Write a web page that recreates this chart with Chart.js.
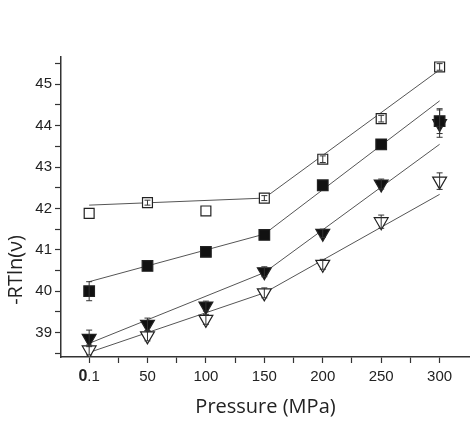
<!DOCTYPE html>
<html>
<head>
<meta charset="utf-8">
<script src="https://cdn.jsdelivr.net/npm/chart.js@4/dist/chart.umd.min.js"></script>
<style>
html, body { margin: 0; padding: 0; background: #fff; overflow: hidden; }
#wrap { width: 470px; height: 425px; }
canvas { display: block; }
</style>
</head>
<body>
<div id="wrap"><canvas id="chart"></canvas></div>
<script>
// presiones medidas (MPa)
const pressure = [0.1, 50, 100, 150, 200, 250, 300];
const xTickValues = [0.1, 25, 50, 75, 100, 125, 150, 175, 200, 225, 250, 275, 300];
const xTickLabels = ['0.1', '50', '100', '150', '200', '250', '300'];
const yTickValues = [38.5, 39, 39.5, 40, 40.5, 41, 41.5, 42, 42.5, 43, 43.5, 44, 44.5, 45, 45.5];
const yTitle = '-RTln(ν)';

// -RTln(v) por serie
const openSquare   = [41.88, 42.14, 41.94, 42.25, 43.19, 44.17, 45.42];
const filledSquare = [40.00, 40.61, 40.95, 41.36, 42.56, 43.55, 44.11];
const filledTri    = [38.86, 39.20, 39.64, 40.47, 41.40, 42.59, 44.05];
const openTri      = [38.58, 38.92, 39.32, 39.96, 40.65, 41.68, 42.66];

// barras de error
const errOpenSquare   = [0, 0.06, 0, 0.06, 0.08, 0.08, 0.08];
const errFilledSquare = [0.23, 0, 0, 0, 0, 0, 0.3];
const errFilledTri    = [0.2, 0.15, 0.12, 0.12, 0.1, 0.12, 0.33];
const errOpenTri      = [0.12, 0.12, 0.12, 0.12, 0.12, 0.16, 0.2];

// rectas de ajuste (dos tramos)
const fitX = [0.1, 150, 300];
const fitOpenSquare   = [42.08, 42.25, 45.35];
const fitFilledSquare = [40.23, 41.38, 44.60];
const fitFilledTri    = [38.74, 40.45, 43.55];
const fitOpenTri      = [38.52, 39.96, 42.34];

const toPts = (xs, ys) => xs.map((x, i) => ({ x: x, y: ys[i] }));

function markers(label, ys, errs, style, filled, radius) {
    return {
        label: label,
        data: toPts(pressure, ys),
        errors: errs,
        pointStyle: style,
        rotation: style === 'triangle' ? 180 : 0,
        pointRadius: radius,
        pointHoverRadius: radius,
        backgroundColor: filled ? '#111' : '#fff',
        borderColor: '#222',
        borderWidth: 1.2,
        showLine: false
    };
}

function fitLine(label, ys) {
    return {
        label: label,
        data: toPts(fitX, ys),
        showLine: true,
        pointRadius: 0,
        borderColor: '#555',
        borderWidth: 1,
        tension: 0
    };
}

// barras de error, titulo del eje y y la etiqueta "0.1"
const extras = {
    id: 'extras',
    afterDatasetsDraw(chart) {
        const ctx = chart.ctx;
        const xs = chart.scales.x, ys = chart.scales.y;
        ctx.save();
        ctx.strokeStyle = '#333';
        ctx.lineWidth = 1;
        chart.data.datasets.forEach(ds => {
            if (!ds.errors) return;
            ds.data.forEach((p, i) => {
                const e = ds.errors[i];
                if (!e) return;
                const px = xs.getPixelForValue(p.x);
                const top = ys.getPixelForValue(p.y + e);
                const bot = ys.getPixelForValue(p.y - e);
                ctx.beginPath();
                ctx.moveTo(px, top); ctx.lineTo(px, bot);
                ctx.moveTo(px - 3, top); ctx.lineTo(px + 3, top);
                ctx.moveTo(px - 3, bot); ctx.lineTo(px + 3, bot);
                ctx.stroke();
            });
        });
        ctx.restore();
    },
    afterDraw(chart) {
        const ctx = chart.ctx;
        const xs = chart.scales.x;
        ctx.save();
        ctx.fillStyle = '#222';
        // etiqueta 0.1 con el cero en negrita
        const boldFont = 'bold 16px "Liberation Sans"';
        const normFont = '15px "Liberation Sans"';
        ctx.font = boldFont;
        const w0 = ctx.measureText('0').width;
        ctx.font = normFont;
        const w1 = ctx.measureText('.1').width;
        const cx = xs.getPixelForValue(pressure[0]);
        const ty = xs.top + 6 + 5 + 9;
        ctx.textBaseline = 'middle';
        ctx.textAlign = 'left';
        ctx.font = boldFont;
        ctx.fillText('0', cx - (w0 + w1) / 2, ty);
        ctx.font = normFont;
        ctx.fillText('.1', cx - (w0 + w1) / 2 + w0, ty);
        // titulo del eje y
        ctx.translate(16, 270);
        ctx.rotate(-Math.PI / 2);
        ctx.textAlign = 'center';
        ctx.font = '20px "Open Sans"';
        ctx.fillText(yTitle, 0, 0);
        ctx.restore();
    }
};

const config = {
    type: 'scatter',
    data: {
        datasets: [
            markers('open square', openSquare, errOpenSquare, 'rect', false, 7),
            markers('filled square', filledSquare, errFilledSquare, 'rect', true, 7.5),
            markers('filled triangle', filledTri, errFilledTri, 'triangle', true, 8),
            markers('open triangle', openTri, errOpenTri, 'triangle', false, 8),
            fitLine('fit 1', fitOpenSquare),
            fitLine('fit 2', fitFilledSquare),
            fitLine('fit 3', fitFilledTri),
            fitLine('fit 4', fitOpenTri)
        ]
    },
    options: {
        responsive: true,
        maintainAspectRatio: false,
        animation: false,
        layout: { autoPadding: false, padding: { top: 57, right: 0, bottom: 0, left: 0 } },
        plugins: {
            legend: { display: false },
            tooltip: { enabled: false }
        },
        scales: {
            x: {
                type: 'linear',
                min: -24,
                max: 326,
                afterBuildTicks: s => { s.ticks = xTickValues.map(v => ({ value: v })); },
                afterFit: s => { s.height = 68; },
                grid: { drawOnChartArea: false, tickLength: 6, color: '#333', tickWidth: 1.2 },
                border: { display: true, color: '#333', width: 1.5 },
                ticks: {
                    autoSkip: false,
                    maxRotation: 0,
                    padding: 5,
                    color: '#222',
                    font: { family: 'Liberation Sans', size: 15 },
                    callback: v => {
                        const i = pressure.indexOf(v);
                        return i > 0 ? xTickLabels[i] : '';
                    }
                },
                title: {
                    display: true,
                    text: 'Pressure (MPa)',
                    color: '#222',
                    font: { family: 'Open Sans', size: 20 },
                    padding: { top: 0, bottom: 6 }
                }
            },
            y: {
                min: 38.41,
                max: 45.66,
                afterBuildTicks: s => { s.ticks = yTickValues.map(v => ({ value: v })); },
                afterFit: s => { s.width = 61; },
                grid: { drawOnChartArea: false, tickLength: 6, color: '#333', tickWidth: 1.2 },
                border: { display: true, color: '#333', width: 1.5 },
                ticks: {
                    padding: 3,
                    color: '#222',
                    font: { family: 'Liberation Sans', size: 15 },
                    callback: v => Number.isInteger(v) ? String(v) : ''
                }
            }
        }
    },
    plugins: [extras]
};

new Chart(document.getElementById('chart').getContext('2d'), config);
</script>
</body>
</html>
